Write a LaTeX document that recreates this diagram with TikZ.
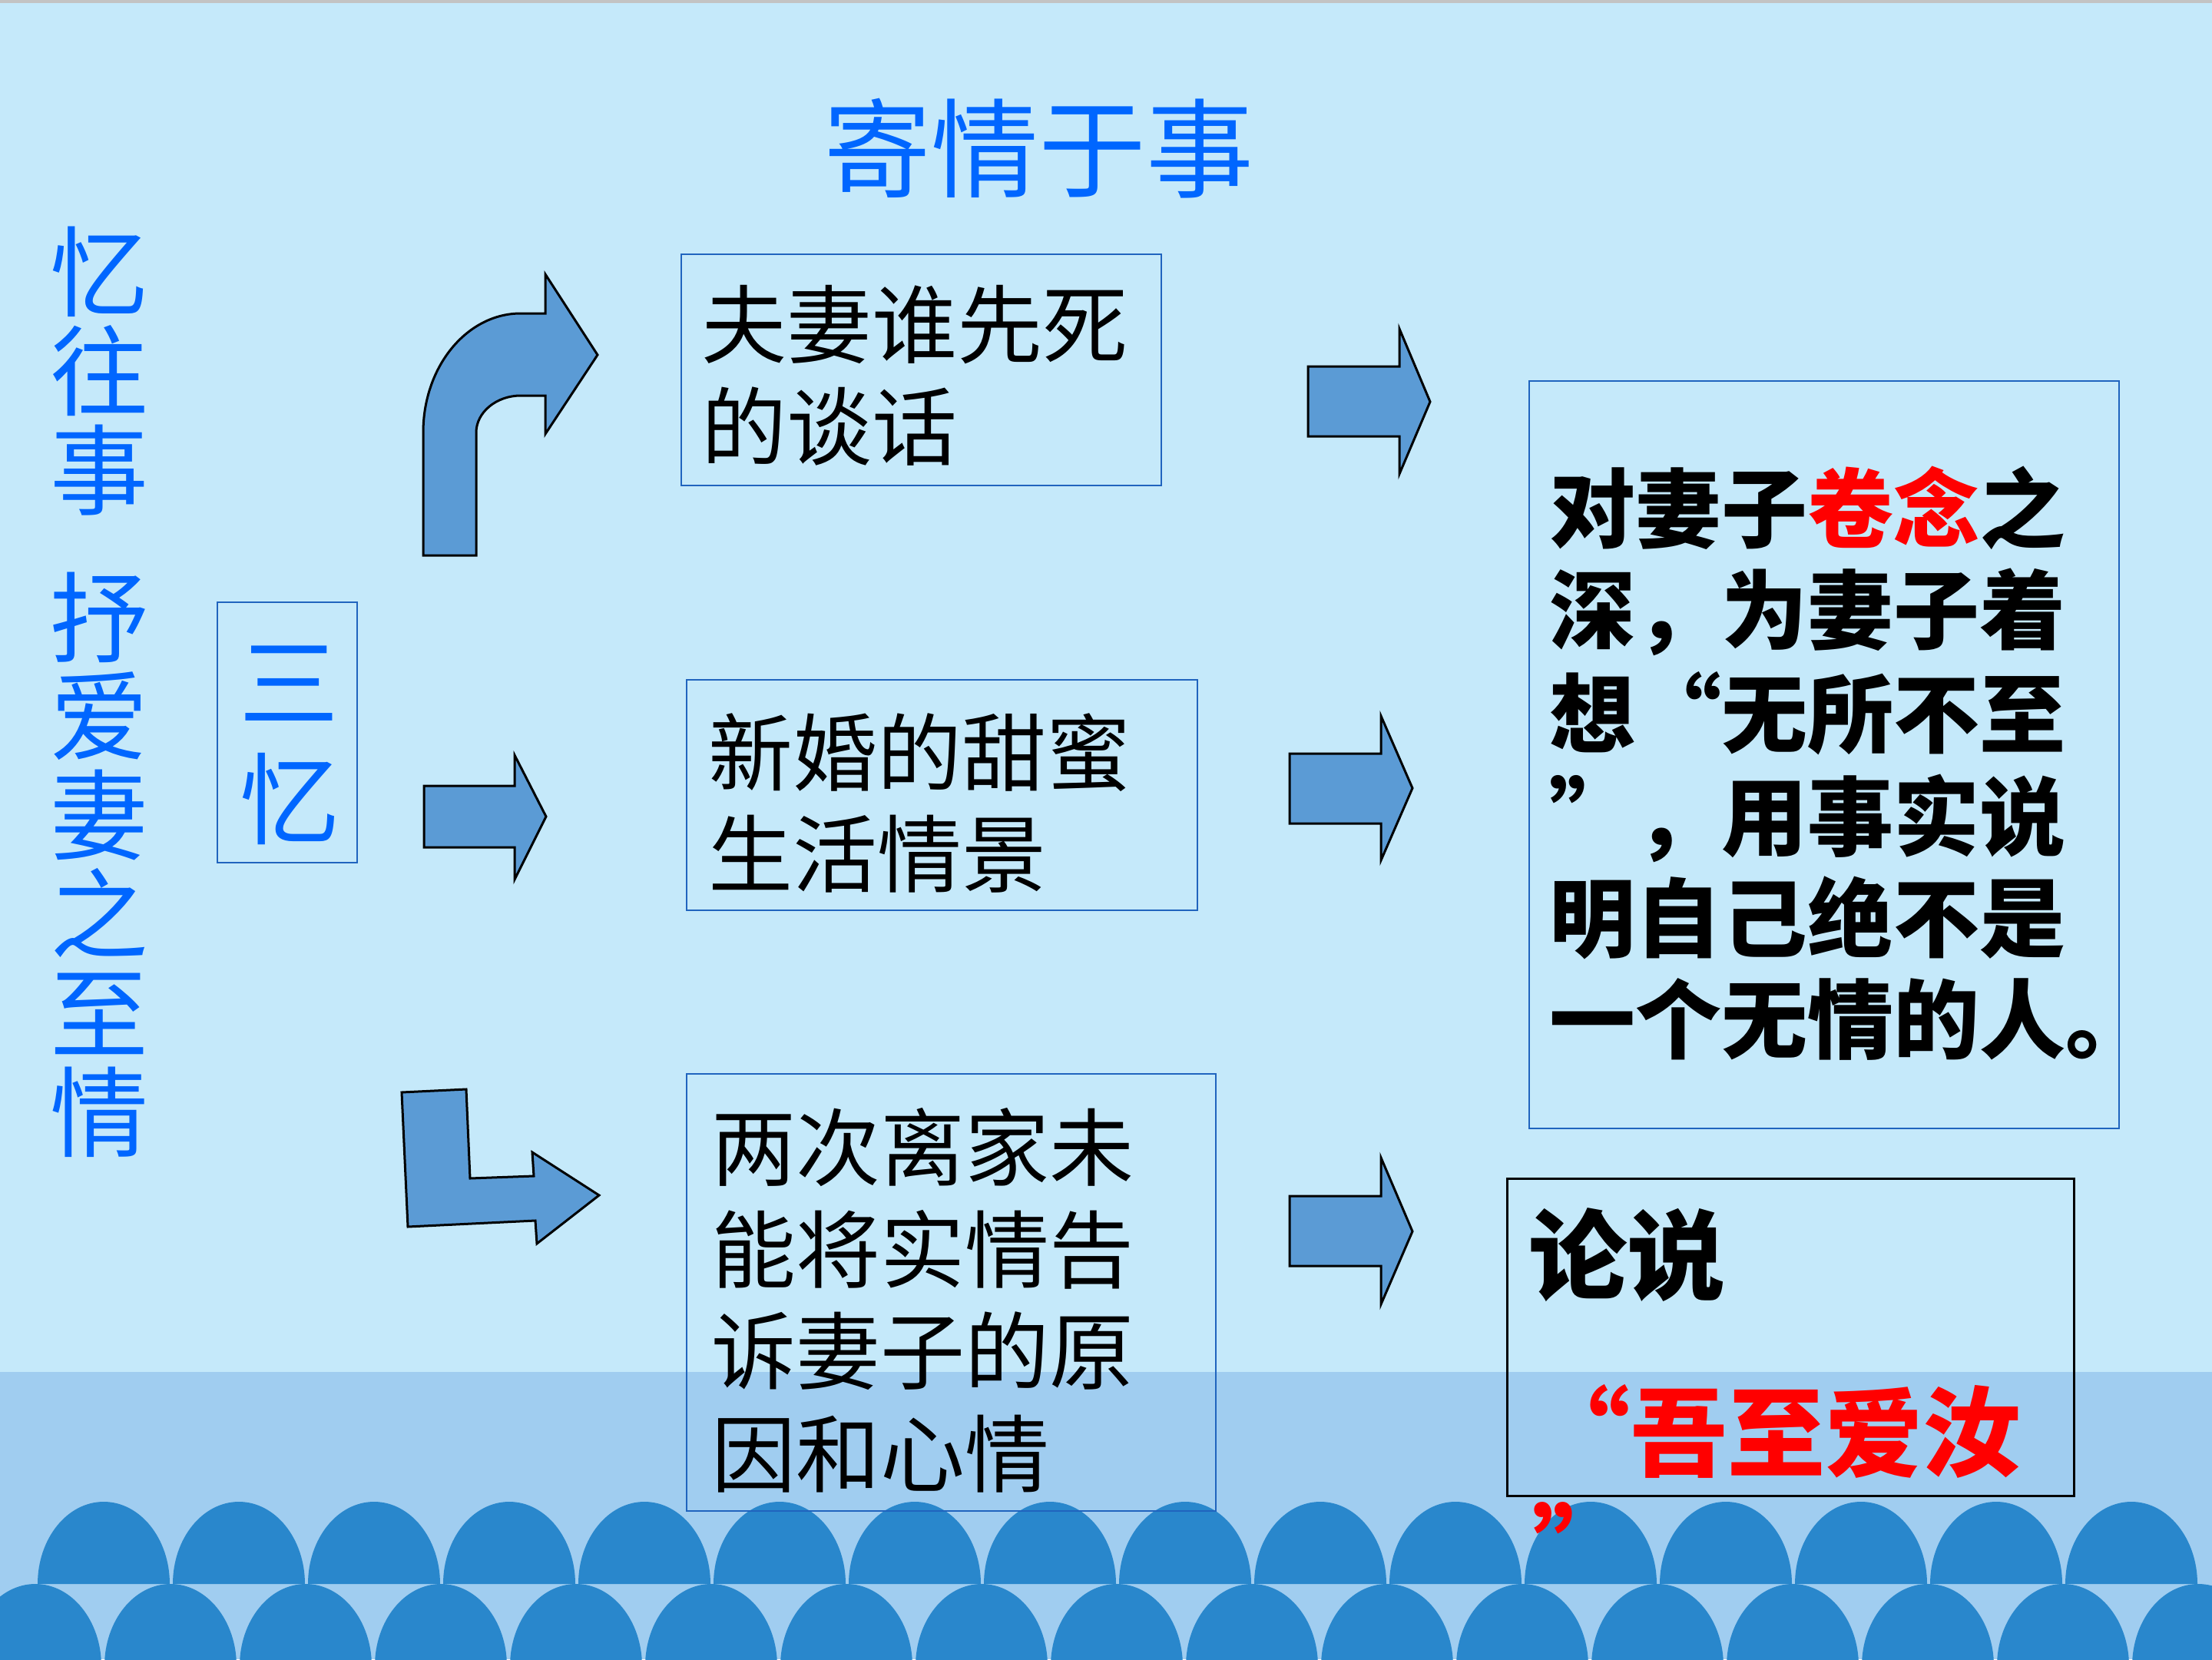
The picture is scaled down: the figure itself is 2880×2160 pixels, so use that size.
\documentclass[tikz,border=0pt]{standalone}
\usepackage{fontspec}
\newfontfamily\cjk{Noto Sans CJK SC}
\newcommand\fsz[1]{\fontsize{#1}{#1}\selectfont}
\newcommand\qL{\makebox[1em][r]{“}}
\newcommand\qR{\makebox[1em][l]{”}}
\definecolor{bg}{RGB}{197,233,250}
\definecolor{topgray}{RGB}{195,195,195}
\definecolor{band}{RGB}{160,205,240}
\definecolor{wave}{RGB}{41,135,204}
\definecolor{ttl}{RGB}{0,102,255}
\definecolor{boxblue}{RGB}{32,100,190}
\definecolor{arrowfill}{RGB}{91,155,213}
\definecolor{hot}{RGB}{255,0,0}
\tikzset{
  blockarrow/.style={fill=arrowfill, draw=black, line width=3pt, line join=miter},
  framebox/.style={draw=boxblue, line width=2.5pt, rectangle, inner sep=0pt},
  blackbox/.style={draw=black, line width=3pt, rectangle, inner sep=0pt},
  songline/.style={anchor=base west, inner sep=0pt, font=\cjk\fsz{#1}},
  heiline/.style={anchor=base west, inner sep=0pt, font=\cjk\bfseries\fsz{#1}},
  bluechar/.style={anchor=base, inner sep=0pt, text=ttl, font=\cjk\fsz{#1}}
}
\begin{document}
\begin{tikzpicture}[x=1pt,y=-1pt]
\useasboundingbox (0,0) rectangle (2880,2160);
\clip (0,0) rectangle (2880,2160);
% background
\fill[bg] (0,0) rectangle (2880,2160);
\fill[topgray] (0,0) rectangle (2880,4);
\fill[band] (0,1786) rectangle (2880,2160);
\foreach \k in {0,...,16} {
  \fill[wave] ({46+176*\k},2169) ellipse[x radius=86, y radius=107];
}
\foreach \k in {0,...,15} {
  \fill[wave] ({49+176*\k},2062) arc[start angle=180, end angle=360, x radius=86, y radius=107] -- cycle;
}

% title
\node[bluechar=140] (title) at (1352,246) {寄情于事};

% left vertical text
\foreach \ch/\yy [count=\i] in {忆/402,往/531,事/660,抒/852,爱/980,妻/1109,之/1238,至/1367,情/1496} {
  \node[bluechar=128] (v\i) at (129,\yy) {\ch};
}

% 三忆 box
\node[framebox, minimum width=182pt, minimum height=339pt] (sanyi) at (374,953.5) {};
\node[bluechar=130] (san) at (376,937) {三};
\node[bluechar=130] (yi) at (377,1089) {忆};

% block arrows on the left
\draw[blockarrow] (551,723) -- (551,563) .. controls (551,477) and (608,408) .. (678,408)
  -- (710,408) -- (710,357) -- (778,462) -- (710,565) -- (710,515) -- (678,515)
  .. controls (646,515) and (620,537) .. (620,563) -- (620,723) -- cycle;
\draw[blockarrow] (552,1023) -- (670,1023) -- (670,983) -- (711,1063) -- (670,1145)
  -- (670,1103) -- (552,1103) -- cycle;
\draw[blockarrow] (523,1422) -- (607,1418) -- (612,1534) -- (695,1531) -- (693,1500)
  -- (780,1556) -- (699,1619) -- (697,1589) -- (531,1597) -- cycle;

% middle boxes
\node[framebox, minimum width=625pt, minimum height=301pt] (b1) at (1199.5,481.5) {};
\node[songline=111] (b1a) at (913,464) {夫妻谁先死};
\node[songline=111] (b1b) at (913,597) {的谈话};

\node[framebox, minimum width=665pt, minimum height=300pt] (b2) at (1226.5,1035) {};
\node[songline=110] (b2a) at (922,1021) {新婚的甜蜜};
\node[songline=110] (b2b) at (922,1153) {生活情景};

\node[framebox, minimum width=689pt, minimum height=569pt] (b3) at (1238.5,1682.5) {};
\node[songline=110] (b3a) at (926,1535) {两次离家未};
\node[songline=110] (b3b) at (926,1668) {能将实情告};
\node[songline=110] (b3c) at (926,1800) {诉妻子的原};
\node[songline=110] (b3d) at (926,1934) {因和心情};

% right arrows
\draw[blockarrow] (1703,477) -- (1822,477) -- (1822,428) -- (1862,523) -- (1822,617)
  -- (1822,568) -- (1703,568) -- cycle;
\draw[blockarrow] (1679,981) -- (1798,981) -- (1798,932) -- (1839,1026) -- (1798,1120)
  -- (1798,1072) -- (1679,1072) -- cycle;
\draw[blockarrow] (1679,1557) -- (1798,1557) -- (1798,1507) -- (1839,1603) -- (1798,1698)
  -- (1798,1648) -- (1679,1648) -- cycle;

% right big box
\node[framebox, minimum width=768pt, minimum height=973pt] (b4) at (2375,982.5) {};
\node[heiline=112] (b4a) at (2017,704) {对妻子{\color{hot}卷念}之};
\node[heiline=112] (b4b) at (2017,836) {深，为妻子着};
\node[heiline=112] (b4c) at (2017,971) {想\qL 无所不至};
\node[heiline=112] (b4d) at (2017,1105) {\qR，用事实说};
\node[heiline=112] (b4e) at (2017,1237) {明自己绝不是};
\node[heiline=112] (b4f) at (2017,1369) {一个无情的人。};

% 论说 box
\node[blackbox, minimum width=738pt, minimum height=413pt] (b5) at (2331,1740.5) {};
\node[heiline=128] (b5a) at (1990,1682) {论说};
\node[heiline=127, text=hot] (b5b) at (1995,1912) {\qL 吾至爱汝};
\node[heiline=127, text=hot] (b5c) at (1995,2064) {\qR};
\end{tikzpicture}
\end{document}
